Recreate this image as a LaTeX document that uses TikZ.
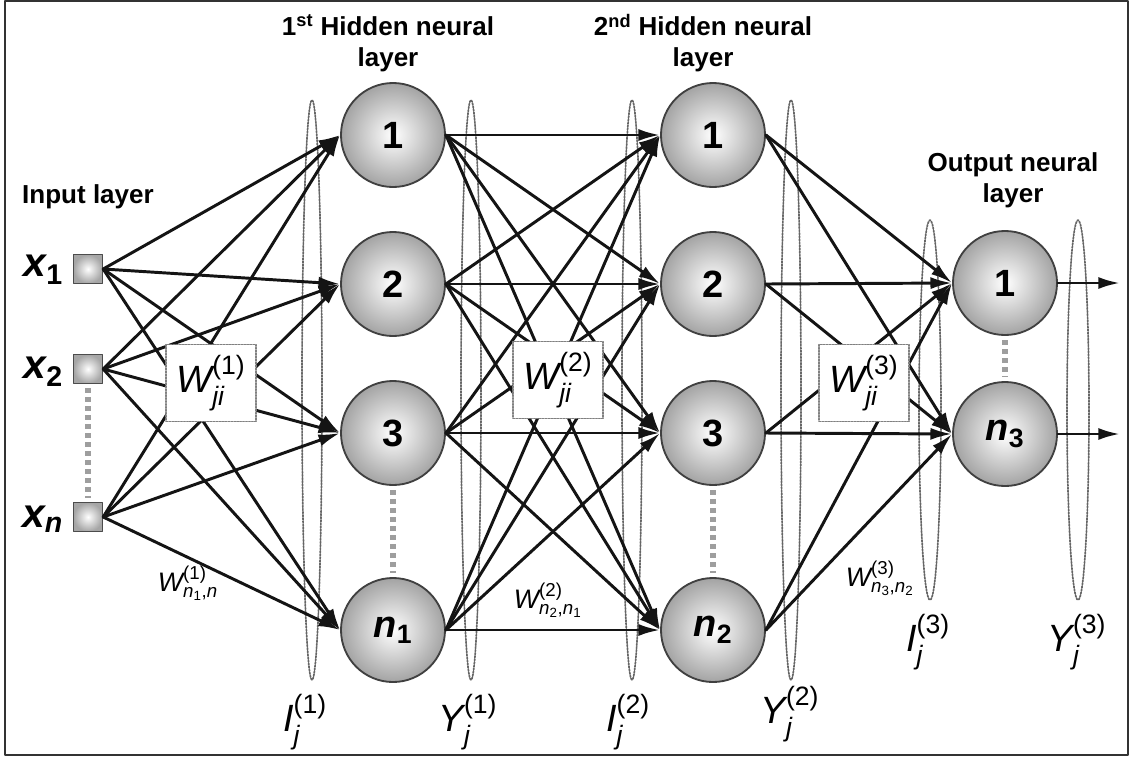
\documentclass[tikz,border=0pt]{standalone}
\usepackage{amsmath}
\usepackage{fontspec}
\setmainfont{Liberation Sans}
\usetikzlibrary{arrows.meta,calc,positioning}

\begin{document}
\begin{tikzpicture}[
  x=0.025cm, y=-0.025cm,
  line cap=round,
  line join=round,
  neuron/.style={circle, draw=black!75, line width=1.3pt, minimum size=2.6cm, inner sep=0pt,
    inner color=white, outer color=black!36, font=\bfseries\fontsize{27}{29}\selectfont},
  inputsq/.style={rectangle, draw=black!70, line width=1.1pt, minimum size=0.72cm, inner sep=0pt,
    inner color=white, outer color=black!35},
  link/.style={-{Latex[length=5.4mm,width=3mm]}, line width=2.1pt, draw=black!92},
  field/.style={draw=black!60, densely dotted, line width=1.2pt},
  gapdots/.style={draw=black!38, line width=3.6pt, line cap=butt, dash pattern=on 3.4pt off 3pt,
    shorten <=3pt, shorten >=3pt},
  wbox/.style={draw=black!50, densely dotted, line width=1.1pt, fill=white, minimum width=2.25cm,
    minimum height=1.92cm, font=\fontsize{27}{29}\selectfont},
  title/.style={font=\bfseries\fontsize{18.5}{22}\selectfont, align=center},
  xlabel/.style={font=\bfseries\fontsize{29}{31}\selectfont},
  siglabel/.style={font=\fontsize{27}{29}\selectfont},
  wlabel/.style={font=\fontsize{19}{21}\selectfont}
]

% Frame.
\draw[black!80, line width=1pt] (5,1) rectangle (1128,755);

% Dotted fields between the layers.
\foreach \x in {312,471,632,791}{
  \draw[field] (\x,390) ellipse [x radius=10, y radius=290];
}
\foreach \x in {930,1078}{
  \draw[field] (\x,410) ellipse [x radius=11, y radius=190];
}

% Input layer.
\node[title] (inputTitle) at (88,197) {Input layer};
\node[inputsq] (in1) at (88,269) {};
\node[inputsq] (in2) at (88,369) {};
\node[inputsq] (in3) at (88,517) {};
\node[xlabel, anchor=east] (x1) at (68,270) {$\text{\itshape x}_{\text{1}}$};
\node[xlabel, anchor=east] (x2) at (68,372) {$\text{\itshape x}_{\text{2}}$};
\node[xlabel, anchor=east] (x3) at (68,519) {$\text{\itshape x}_{\text{\itshape n}}$};

% Hidden and output layers.
\node[title] (hidATitle) at (388,43) {1\textsuperscript{st} Hidden neural\\layer};
\node[title] (hidBTitle) at (703,43) {2\textsuperscript{nd} Hidden neural\\layer};
\node[title] (outTitle) at (1013,180) {Output neural\\layer};

\foreach \y [count=\i] in {135,284,433}{
  \node[neuron] (ha\i) at (393,\y) {\i};
  \node[neuron] (hb\i) at (713,\y) {\i};
}
\node[neuron] (ha4) at (393,630) {\itshape n$_{\text{\upshape\bfseries 1}}$};
\node[neuron] (hb4) at (713,630) {\itshape n$_{\text{\upshape\bfseries 2}}$};
\node[neuron] (out1) at (1005,283) {1};
\node[neuron] (out2) at (1005,434) {\itshape n$_{\text{\upshape\bfseries 3}}$};

\coordinate (y1) at (1120,283);
\coordinate (y2) at (1120,434);

% Omitted units.
\draw[gapdots] (in2.south) -- (in3.north);
\draw[gapdots] (ha3.south) -- (ha4.north);
\draw[gapdots] (hb3.south) -- (hb4.north);
\draw[gapdots] (out1.south) -- (out2.north);

% Connections.
\foreach \i in {1,2,3}{
  \foreach \j in {1,...,4}{
    \draw[link] (in\i.east) -- (ha\j.west);
  }
}
\foreach \i in {1,...,4}{
  \foreach \j in {1,...,4}{
    \draw[link] (ha\i.east) -- (hb\j.west);
  }
  \foreach \j in {1,2}{
    \draw[link] (hb\i.east) -- (out\j.west);
  }
}
\draw[link] (out1.east) -- (y1);
\draw[link] (out2.east) -- (y2);

% Weight boxes.
\node[wbox] (wA) at (211,383) {$\text{\itshape W}^{\text{(1)}}_{\text{\itshape ji}}$};
\node[wbox] (wB) at (558,380) {$\text{\itshape W}^{\text{(2)}}_{\text{\itshape ji}}$};
\node[wbox] (wC) at (864,383) {$\text{\itshape W}^{\text{(3)}}_{\text{\itshape ji}}$};

% Single weight labels.
\node[wlabel] (wOne) at (188,583)
  {$\text{\itshape W}^{\text{(1)}}_{\text{\itshape n}_{\text{1}}\text{,\itshape n}}$};
\node[wlabel] (wTwo) at (548,600)
  {$\text{\itshape W}^{\text{(2)}}_{\text{\itshape n}_{\text{2}}\text{,\itshape n}_{\text{1}}}$};
\node[wlabel] (wThree) at (880,578)
  {$\text{\itshape W}^{\text{(3)}}_{\text{\itshape n}_{\text{3}}\text{,\itshape n}_{\text{2}}}$};

% Signal labels.
\node[siglabel] (iA) at (305,722) {$\text{\itshape I}^{\text{(1)}}_{\text{\itshape j}}$};
\node[siglabel] (yA) at (468,722) {$\text{\itshape Y}^{\text{(1)}}_{\text{\itshape j}}$};
\node[siglabel] (iB) at (628,722) {$\text{\itshape I}^{\text{(2)}}_{\text{\itshape j}}$};
\node[siglabel] (yB) at (790,714) {$\text{\itshape Y}^{\text{(2)}}_{\text{\itshape j}}$};
\node[siglabel] (iC) at (928,642) {$\text{\itshape I}^{\text{(3)}}_{\text{\itshape j}}$};
\node[siglabel] (yC) at (1077,642) {$\text{\itshape Y}^{\text{(3)}}_{\text{\itshape j}}$};

\useasboundingbox (0,0) rectangle (1131,758);
\end{tikzpicture}
\end{document}
